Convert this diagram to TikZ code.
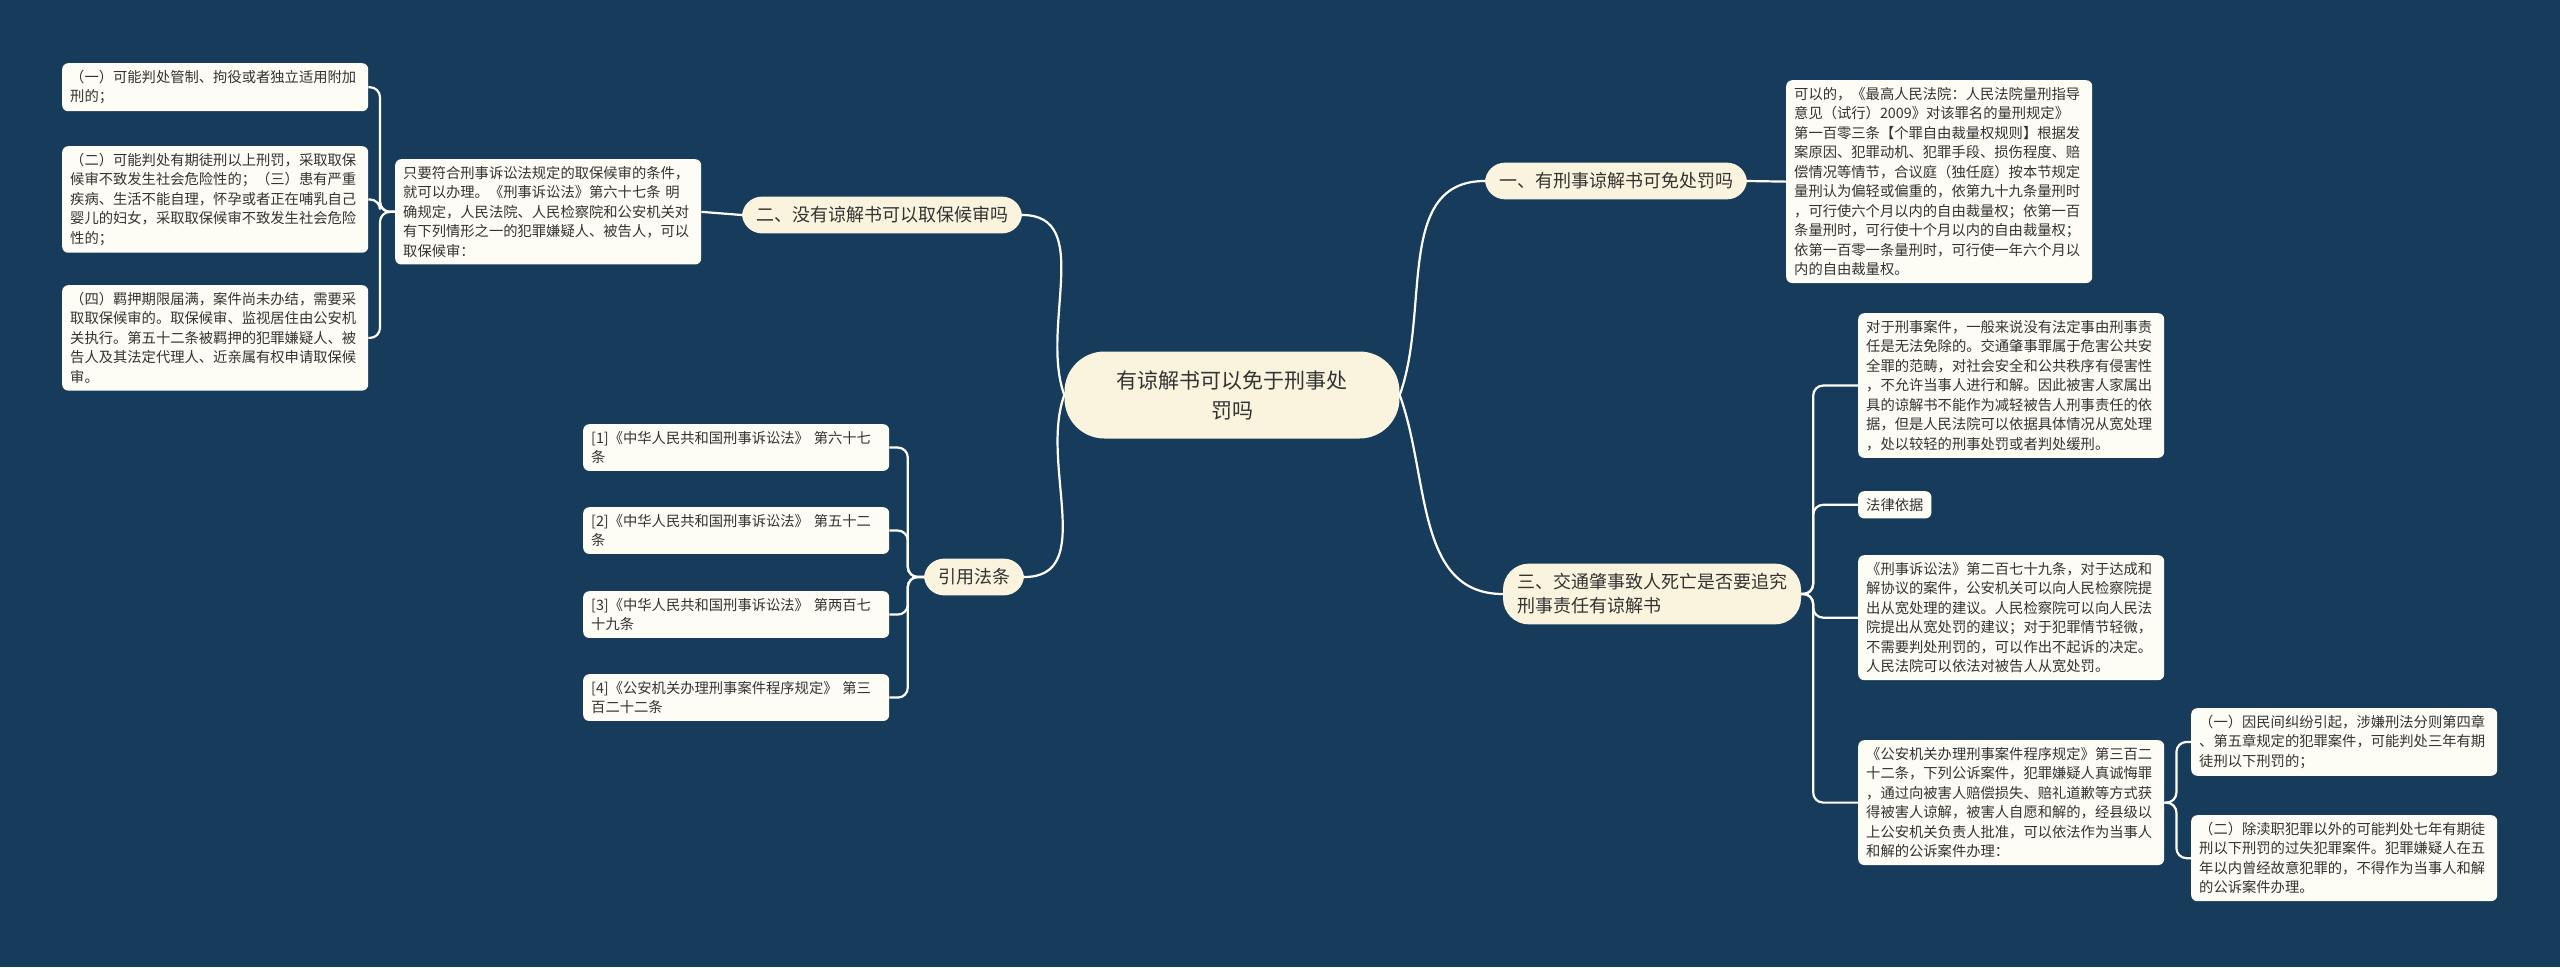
\documentclass[tikz,border=0pt]{standalone}
\usepackage{fontspec}
\setmainfont{Noto Sans CJK SC}
\usetikzlibrary{positioning}
\definecolor{bgblue}{HTML}{173C5B}
\definecolor{leafbg}{HTML}{FDFCF5}
\definecolor{topicbg}{HTML}{FAF4DE}
\definecolor{inktext}{HTML}{333333}
\begin{document}
\begin{tikzpicture}[x=1pt,y=-1pt,
  link/.style={draw=white, line width=2.2pt},
  spine/.style={link, rounded corners=10pt},
  leaf/.style={fill=leafbg, rounded corners=6pt, anchor=north west, align=left,
    text=inktext, font=\fontsize{14.3}{19.5}\selectfont, inner xsep=8pt, inner ysep=7pt},
  wide/.style={leaf, text width=290pt},
  topic/.style={fill=topicbg, rounded corners=20pt, text=inktext,
    font=\fontsize{18}{24}\selectfont, inner xsep=14pt, inner ysep=10pt},
  root/.style={fill=topicbg, rounded corners=40pt, text=inktext, align=center,
    font=\fontsize{21}{30}\selectfont, minimum width=335pt, minimum height=87pt}]
\fill[bgblue] (0,0) rectangle (2560,967);
\useasboundingbox (0,0) rectangle (2560,967);
% centre and main topics
\node[root] (c) at (1232,395) {有谅解书可以免于刑事处\\罚吗};
\node[topic] (b1) at (1616,181) {一、有刑事谅解书可免处罚吗};
\node[topic] (b2) at (882,215) {二、没有谅解书可以取保候审吗};
\node[topic, align=left, rounded corners=26pt] (b3) at (1652,594) {三、交通肇事致人死亡是否要追究\\刑事责任有谅解书};
\node[topic] (cit) at (974,577) {引用法条};
% branch one
\node[wide] (t1) at (1786,80) {可以的，《最高人民法院：人民法院量刑指导\\意见（试行）2009》对该罪名的量刑规定》\\第一百零三条【个罪自由裁量权规则】根据发\\案原因、犯罪动机、犯罪手段、损伤程度、赔\\偿情况等情节，合议庭（独任庭）按本节规定\\量刑认为偏轻或偏重的，依第九十九条量刑时\\，可行使六个月以内的自由裁量权；依第一百\\条量刑时，可行使十个月以内的自由裁量权；\\依第一百零一条量刑时，可行使一年六个月以\\内的自由裁量权。};
% branch two
\node[wide] (t2) at (395,159) {只要符合刑事诉讼法规定的取保候审的条件，\\就可以办理。《刑事诉讼法》第六十七条 明\\确规定，人民法院、人民检察院和公安机关对\\有下列情形之一的犯罪嫌疑人、被告人，可以\\取保候审：};
\node[wide] (l1) at (62,63) {（一）可能判处管制、拘役或者独立适用附加\\刑的；};
\node[wide] (l2) at (62,146) {（二）可能判处有期徒刑以上刑罚，采取取保\\候审不致发生社会危险性的；（三）患有严重\\疾病、生活不能自理，怀孕或者正在哺乳自己\\婴儿的妇女，采取取保候审不致发生社会危险\\性的；};
\node[wide] (l3) at (62,285) {（四）羁押期限届满，案件尚未办结，需要采\\取取保候审的。取保候审、监视居住由公安机\\关执行。第五十二条被羁押的犯罪嫌疑人、被\\告人及其法定代理人、近亲属有权申请取保候\\审。};
% citations
\node[wide] (r1) at (583,424) {[1]《中华人民共和国刑事诉讼法》 第六十七\\条};
\node[wide] (r2) at (583,507) {[2]《中华人民共和国刑事诉讼法》 第五十二\\条};
\node[wide] (r3) at (583,591) {[3]《中华人民共和国刑事诉讼法》 第两百七\\十九条};
\node[wide] (r4) at (583,674) {[4]《公安机关办理刑事案件程序规定》 第三\\百二十二条};
% branch three
\node[wide] (s1) at (1858,313) {对于刑事案件，一般来说没有法定事由刑事责\\任是无法免除的。交通肇事罪属于危害公共安\\全罪的范畴，对社会安全和公共秩序有侵害性\\，不允许当事人进行和解。因此被害人家属出\\具的谅解书不能作为减轻被告人刑事责任的依\\据，但是人民法院可以依据具体情况从宽处理\\，处以较轻的刑事处罚或者判处缓刑。};
\node[leaf] (s2) at (1858,491) {法律依据};
\node[wide] (s3) at (1858,555) {《刑事诉讼法》第二百七十九条，对于达成和\\解协议的案件，公安机关可以向人民检察院提\\出从宽处理的建议。人民检察院可以向人民法\\院提出从宽处罚的建议；对于犯罪情节轻微，\\不需要判处刑罚的，可以作出不起诉的决定。\\人民法院可以依法对被告人从宽处罚。};
\node[wide] (s4) at (1858,740) {《公安机关办理刑事案件程序规定》第三百二\\十二条，下列公诉案件，犯罪嫌疑人真诚悔罪\\，通过向被害人赔偿损失、赔礼道歉等方式获\\得被害人谅解，被害人自愿和解的，经县级以\\上公安机关负责人批准，可以依法作为当事人\\和解的公诉案件办理：};
\node[wide] (u1) at (2191,708) {（一）因民间纠纷引起，涉嫌刑法分则第四章\\、第五章规定的犯罪案件，可能判处三年有期\\徒刑以下刑罚的；};
\node[wide] (u2) at (2191,815) {（二）除渎职犯罪以外的可能判处七年有期徒\\刑以下刑罚的过失犯罪案件。犯罪嫌疑人在五\\年以内曾经故意犯罪的，不得作为当事人和解\\的公诉案件办理。};
% connectors
\draw[link] (c.east) to[out=70,in=180] (b1.west);
\draw[link] (c.east) to[out=-70,in=180] (b3.west);
\draw[link] (c.west) to[out=110,in=0] (b2.east);
\draw[link] (c.west) to[out=-110,in=0] (cit.east);
\draw[link] (b1.east) -- (t1.west);
\draw[link] (b2.west) -- (t2.east);
\foreach \k in {l1,l2,l3}
  \draw[spine] (t2.west) -- ++(-15,0) |- (\k.east);
\foreach \k in {r1,r2,r3,r4}
  \draw[spine] (cit.west) -- ++(-16,0) |- (\k.east);
\foreach \k in {s1,s2,s3,s4}
  \draw[spine] (b3.east) -- ++(12,0) |- (\k.west);
\foreach \k in {u1,u2}
  \draw[spine] (s4.east) -- ++(12,0) |- (\k.west);
\end{tikzpicture}
\end{document}
